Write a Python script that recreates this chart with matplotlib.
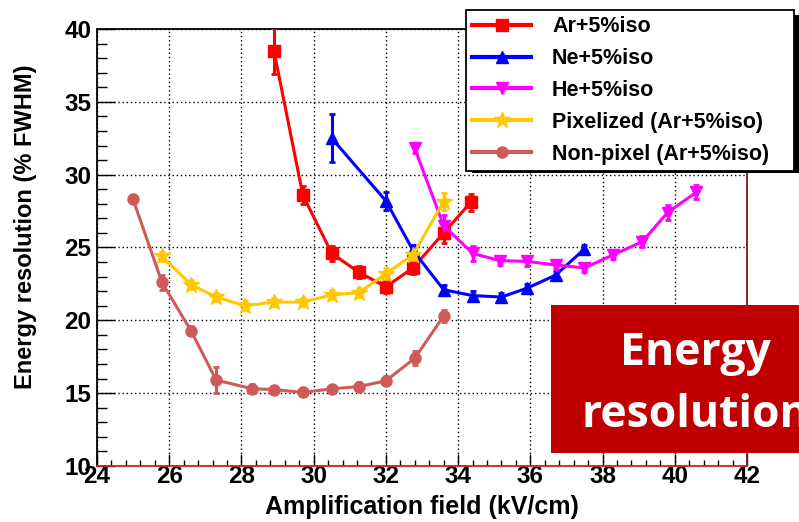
import matplotlib
matplotlib.use("Agg")
import matplotlib.pyplot as plt
from matplotlib.patches import Rectangle
from matplotlib.ticker import MultipleLocator

# Energy resolution vs amplification field for several gas mixtures
ar_x = [28.9, 29.7, 30.5, 31.25, 32.0, 32.75, 33.6, 34.35]
ar_y = [38.5, 28.6, 24.6, 23.3, 22.3, 23.6, 26.0, 28.1]
ar_err = [1.6, 0.6, 0.5, 0.4, 0.4, 0.4, 0.7, 0.6]

ne_x = [30.5, 32.0, 32.75, 33.6, 34.4, 35.2, 35.9, 36.7, 37.5]
ne_y = [32.5, 28.2, 24.8, 22.1, 21.7, 21.6, 22.2, 23.1, 24.9]
ne_err = [1.65, 0.6, 0.4, 0.3, 0.3, 0.3, 0.3, 0.3, 0.3]

he_x = [32.8, 33.6, 34.4, 35.15, 35.9, 36.7, 37.5, 38.3, 39.1, 39.8, 40.6]
he_y = [31.8, 26.5, 24.6, 24.1, 24.05, 23.8, 23.6, 24.5, 25.4, 27.4, 28.8]
he_err = [0.3, 0.7, 0.5, 0.3, 0.3, 0.3, 0.3, 0.3, 0.4, 0.5, 0.5]

pix_x = [25.8, 26.6, 27.3, 28.1, 28.9, 29.7, 30.5, 31.25, 32.0, 32.75, 33.6]
pix_y = [24.4, 22.45, 21.6, 21.0, 21.25, 21.25, 21.75, 21.9, 23.2, 24.5, 28.15]
pix_err = [0.3, 0.3, 0.3, 0.3, 0.3, 0.3, 0.3, 0.3, 0.4, 0.4, 0.6]

np_x = [25.0, 25.8, 26.6, 27.3, 28.3, 28.9, 29.7, 30.5, 31.25, 32.0, 32.8, 33.6]
np_y = [28.3, 22.6, 19.3, 15.9, 15.3, 15.25, 15.05, 15.3, 15.45, 15.85, 17.4, 20.3]
np_err = [0.2, 0.5, 0.3, 0.9, 0.3, 0.2, 0.2, 0.2, 0.3, 0.3, 0.5, 0.4]

series = [
    ("Ar+5%iso", ar_x, ar_y, ar_err, "#ff0000", "s", 8),
    ("Ne+5%iso", ne_x, ne_y, ne_err, "#0000ff", "^", 9),
    ("He+5%iso", he_x, he_y, he_err, "#ff00ff", "v", 9),
    ("Pixelized (Ar+5%iso)", pix_x, pix_y, pix_err, "#ffc800", "*", 12),
    ("Non-pixel (Ar+5%iso)", np_x, np_y, np_err, "#d05a5a", "o", 8),
]

W, H = 799, 522
fig = plt.figure(figsize=(W / 100, H / 100), dpi=100)
ax = fig.add_axes([97 / W, 1 - 466 / H, (747 - 97) / W, (466 - 29) / H])

font = "Liberation Sans"
handles = []
for label, x, y, e, c, m, ms in series:
    ax.errorbar(x, y, yerr=e, color=c, ecolor=c, elinewidth=2.2, capsize=2,
                capthick=2, linewidth=2.2, marker=m, markersize=ms,
                markeredgecolor=c, markerfacecolor=c, zorder=3)
    h, = ax.plot([], [], color=c, marker=m, markersize=ms, linewidth=3.0,
                 markeredgecolor=c, markerfacecolor=c)
    handles.append((h, label))

ax.set_xlim(24, 42)
ax.set_ylim(10, 40)
ax.xaxis.set_major_locator(MultipleLocator(2))
ax.xaxis.set_minor_locator(MultipleLocator(0.4))
ax.yaxis.set_major_locator(MultipleLocator(5))
ax.yaxis.set_minor_locator(MultipleLocator(1))
ax.grid(True, which="major", color="black", linestyle=(0, (1, 2)), linewidth=1.0)
ax.set_axisbelow(True)

ax.tick_params(axis="both", which="both", direction="in", top=False, right=False,
               width=1.0, color="black")
ax.tick_params(axis="x", which="major", length=9, pad=-1)
ax.tick_params(axis="x", which="minor", length=4)
ax.tick_params(axis="y", which="major", length=13, pad=4)
ax.tick_params(axis="y", which="minor", length=7)
for lab in ax.get_xticklabels() + ax.get_yticklabels():
    lab.set_fontfamily(font)
    lab.set_fontweight("bold")
    lab.set_fontsize(17.5)

ax.spines["left"].set_color("black")
ax.spines["top"].set_color("black")
ax.spines["bottom"].set_color("#cc2222")
ax.spines["right"].set_color("#7a1a1a")
for s in ax.spines.values():
    s.set_linewidth(1.3)

ax.set_xlabel("Amplification field (kV/cm)", fontfamily=font, fontweight="bold",
              fontsize=18)
ax.xaxis.set_label_coords(0.5, (466 - 495) / 437)
ax.set_ylabel("Energy resolution (% FWHM)", fontfamily=font, fontweight="bold",
              fontsize=17)
ax.yaxis.set_label_coords((37 - 97) / 650, (466 - 227) / 437)

# Legend box with a solid drop shadow
lx0, ly0, lx1, ly1 = 466, 10, 794, 168
leg = fig.legend([h for h, _ in handles], [l for _, l in handles],
                 loc="upper left",
                 bbox_to_anchor=(lx0 / W, 1 - ly1 / H, (lx1 - lx0) / W, (ly1 - ly0) / H),
                 bbox_transform=fig.transFigure, mode="expand",
                 frameon=True, fancybox=False, borderaxespad=0, borderpad=0.3,
                 handlelength=2.7, handletextpad=1.0, labelspacing=0.5,
                 prop={"family": font, "weight": "bold", "size": 15.5})
leg.get_frame().set_edgecolor("black")
leg.get_frame().set_linewidth(1.3)
leg.get_frame().set_alpha(1)
leg.set_zorder(6)
fig.patches.append(Rectangle(((lx0 + 6) / W, 1 - (ly1 + 5) / H), (lx1 - lx0) / W,
                             (ly1 - ly0) / H, transform=fig.transFigure,
                             facecolor="black", edgecolor="none", zorder=5))

# Highlight panel
fig.patches.append(Rectangle((551 / W, 1 - 453 / H), (W - 551) / W, (453 - 305) / H,
                             transform=fig.transFigure, facecolor="#c00000",
                             edgecolor="none", zorder=7))
fig.text(695 / W, 1 - 365 / H, "Energy", color="white", fontfamily="Open Sans",
         fontweight="bold", fontsize=32, ha="center", va="baseline", zorder=8)
fig.text(695 / W, 1 - 427 / H, "resolution", color="white", fontfamily="Open Sans",
         fontweight="bold", fontsize=32, ha="center", va="baseline", zorder=8)

fig.savefig("out.png", dpi=100)
